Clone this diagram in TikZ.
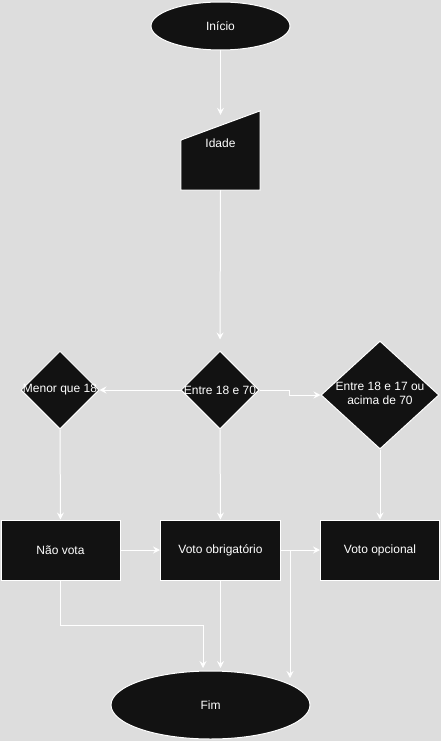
\documentclass[tikz,border=0pt]{standalone}
\usepackage{fontspec}
\setmainfont{Liberation Sans}
\usetikzlibrary{shapes.geometric,arrows.meta,calc}
\definecolor{bgc}{HTML}{DDDDDD}
\definecolor{nodec}{HTML}{121212}
\tikzset{
  base/.style={draw=white, line width=1pt, fill=nodec, text=white, inner sep=0pt, font=\fontsize{12}{14}\selectfont},
  term/.style={base, ellipse},
  proc/.style={base, rectangle},
  deci/.style={base, diamond, aspect=1},
  lbl/.style={text=white, inner sep=0pt, font=\fontsize{12}{14}\selectfont},
  conn/.style={draw=white, line width=1pt, -{Stealth[length=7pt,width=7pt,inset=2.5pt]}},
}
\begin{document}
\begin{tikzpicture}[x=1pt,y=-1pt]
\useasboundingbox[fill=bgc] (0,0) rectangle (441,741);
% nodes
\node[term, minimum width=139, minimum height=48] (inicio) at (220.5,26) {Início};
\node[minimum width=79, minimum height=79, inner sep=0pt] (idade) at (220.5,150.5) {};
\filldraw[draw=white, line width=1pt, fill=nodec] (idade.south west) -- (220.5-39.5,140) -- (idade.north east) -- (idade.south east) -- cycle;
\node[lbl] (idadelbl) at (220.5,143) {Idade};
\node[deci, minimum width=78, minimum height=78] (menor) at (60,390) {\makebox[0pt]{Menor que 18}};
\node[deci, minimum width=78, minimum height=78] (e70) at (220,390) {\makebox[0pt]{Entre 18 e 70}};
\node[deci, minimum width=118, minimum height=108] (big) at (380,395) {\makebox[0pt]{\begin{tabular}{@{}c@{}}Entre 18 e 17 ou\\acima de 70\end{tabular}}};
\node[proc, minimum width=119, minimum height=60] (naovota) at (60.5,550) {Não vota};
\node[proc, minimum width=120, minimum height=60] (obrig) at (220.5,550) {Voto obrigatório};
\node[proc, minimum width=119, minimum height=60] (opc) at (380,550) {Voto opcional};
\node[term, minimum width=199, minimum height=68] (fim) at (210.5,705) {Fim};
% free end coordinates
\coordinate (f1) at (203,668);
\coordinate (f2) at (220.5,668);
\coordinate (f3) at (290,678);
\coordinate (b1) at (203,625);
% connectors
\draw[conn, shorten >=-4pt] (inicio.south) -- (idade.north);
\draw[conn, shorten >=11pt] (idade.south) -- (e70.north);
\draw[conn] (e70.west) -- (menor.east);
\draw[conn] (e70.east) -- ++(30,0) |- (big.west);
\draw[conn] (menor.south) -- (naovota.north);
\draw[conn] (e70.south) -- (obrig.north);
\draw[conn] (big.south) -- (opc.north);
\draw[conn] (naovota.east) -- (obrig.west);
\draw[conn] (obrig.east) -- (opc.west);
\draw[conn] (obrig.east) -| (f3);
\draw[conn] (naovota.south) |- (b1) -- (f1);
\draw[conn] (obrig.south) -- (f2);
\end{tikzpicture}
\end{document}
